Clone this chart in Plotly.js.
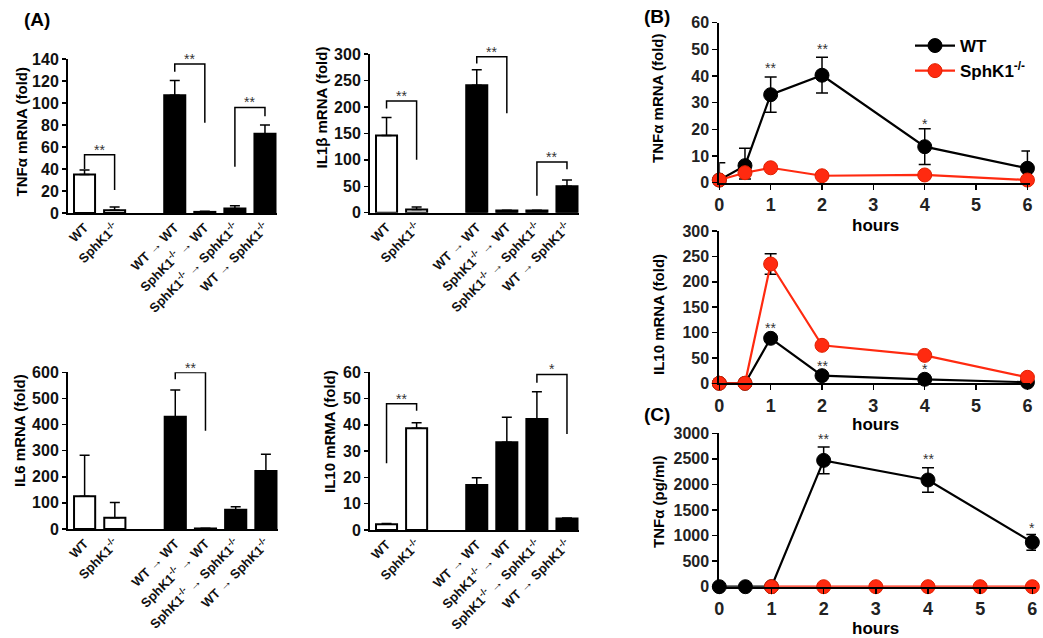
<!DOCTYPE html>
<html><head><meta charset="utf-8">
<script src="https://cdn.plot.ly/plotly-3.0.1.min.js"></script>
<style>body{margin:0;background:#fff}#chart{width:1043px;height:638px}</style>
</head><body><div id="chart"></div>
<script>
// ---------- Panel A data ----------
const groups = ['WT', 'SphK1<sup>-/-</sup>', 'WT → WT', 'SphK1<sup>-/-</sup> → WT',
  'SphK1<sup>-/-</sup> → SphK1<sup>-/-</sup>', 'WT → SphK1<sup>-/-</sup>'];
const tnfA = [35, 2.5, 107, 1, 4, 72];
const tnfAErr = [4, 3, 13.5, 0.5, 2.5, 8];
const il1bA = [146, 6, 241, 4, 4, 50];
const il1bAErr = [34, 5, 29, 0.5, 0.5, 12];
const il6A = [125, 43, 430, 2, 74, 222];
const il6AErr = [157, 58, 102, 0.5, 11, 64];
const il10A = [2.2, 38.7, 17.1, 33.4, 42.2, 4.4];
const il10AErr = [0.3, 2.1, 2.8, 9.5, 10.4, 0.2];
// significance brackets: [group i, group j, top, left end, right end, label]
const tnfASig = [[0, 1, 53, 40, 21, '**'], [2, 3, 135.5, 128.5, 82, '**'], [4, 5, 96, 42, 88, '**']];
const il1bASig = [[0, 1, 211, 197, 100, '**'], [2, 3, 295, 282, 188, '**'], [4, 5, 96, 32, 82, '**']];
const il6ASig = [[2, 3, 599, 573, 376, '**']];
const il10ASig = [[0, 1, 48, 25.4, 45.4, '**'], [4, 5, 59.2, 56, 36.5, '*']];
const titlesA = ['TNFα mRNA (fold)', 'IL1β mRNA (fold)', 'IL6 mRNA (fold)', 'IL10 mRMA (fold)'];

// ---------- Panel B / C data ----------
const hours = [0, 0.5, 1, 2, 4, 6];
const tnfWT = [1, 6.4, 33, 40.3, 13.5, 5.4];
const tnfWTErrUp = [6.5, 6.5, 6.6, 6.7, 6.7, 6.5];
const tnfWTErrDn = [0, 5, 6.6, 6.7, 6.7, 5.4];
const tnfKO = [1, 3.75, 5.6, 2.6, 2.9, 1];
const tnfSig = [[1, 43.5, '**'], [2, 50.4, '**'], [4, 22.5, '*']];

const il10WT = [0, 0, 88.6, 15, 7.9, 2];
const il10KO = [0, 0, 235, 74.8, 55, 11.8];
const il10KOErr = [0, 0, 20, 0, 0, 0];
const il10Sig = [[1, 110, '**'], [2, 36, '**'], [4, 30, '*']];

const hoursCWT = [0, 0.5, 1, 2, 4, 6];
const tnfCWT = [0, 0, 0, 2470, 2087, 868];
const tnfCWTErr = [0, 0, 0, 260, 240, 155];
const hoursCKO = [1, 2, 3, 4, 5, 6];
const tnfCKO = [0, 0, 0, 0, 0, 0];
const tnfCSig = [[2, 2900, '**'], [4, 2510, '**'], [6, 1160, '*']];
const titlesB = ['TNFα mRNA (fold)', 'IL10 mRNA (fold)', 'TNFα (pg/ml)'];

// ---------- layout helpers ----------
const W = 1043, H = 638;
const FONT = 'Arial, Liberation Sans, sans-serif';
const slots = [0, 1, 3, 4, 5, 6];
const fills = ['#fff', '#fff', '#000', '#000', '#000', '#000'];
const RED = '#ff2a10';
const dx = (a, b) => [a / W, b / W];
const dy = (top, bottom) => [1 - bottom / H, 1 - top / H];

const traces = [];
const annotations = [];

function barPanel(n, vals, errs, sig) {
  const xa = 'x' + (n === 1 ? '' : n), ya = 'y' + (n === 1 ? '' : n);
  traces.push({
    type: 'bar', x: slots, y: vals, xaxis: xa, yaxis: ya, width: 0.7,
    marker: {color: fills, line: {color: '#000', width: 2}},
    error_y: {type: 'data', symmetric: false, array: errs, arrayminus: vals.map(() => 0),
      color: '#000', thickness: 1.5, width: 5},
    showlegend: false, hoverinfo: 'skip', cliponaxis: false
  });
  sig.forEach(s => {
    const x0 = slots[s[0]], x1 = slots[s[1]];
    traces.push({
      type: 'scatter', mode: 'lines', x: [x0, x0, x1, x1], y: [s[3], s[2], s[2], s[4]],
      xaxis: xa, yaxis: ya, line: {color: '#000', width: 1.5}, showlegend: false,
      hoverinfo: 'skip', cliponaxis: false
    });
    annotations.push({
      xref: xa, yref: ya, x: (x0 + x1) / 2, y: s[2], text: s[5], showarrow: false,
      yanchor: 'bottom', yshift: -5, font: {family: FONT, size: 14, color: '#333'}
    });
  });
}

barPanel(1, tnfA, tnfAErr, tnfASig);
barPanel(2, il1bA, il1bAErr, il1bASig);
barPanel(3, il6A, il6AErr, il6ASig);
barPanel(4, il10A, il10AErr, il10ASig);

function lineTrace(n, x, y, color, name, errUp, errDn, legend) {
  const t = {
    type: 'scatter', mode: 'lines+markers', x: x, y: y, name: name,
    xaxis: 'x' + n, yaxis: 'y' + n,
    line: {color: color, width: 2.2},
    marker: {color: color, size: 14, line: {color: color === RED ? '#e02000' : '#000', width: 1}},
    showlegend: !!legend, cliponaxis: false, hoverinfo: 'skip'
  };
  if (errUp) {
    t.error_y = {type: 'data', symmetric: false, array: errUp, arrayminus: errDn || errUp,
      color: '#000', thickness: 1.5, width: 6};
  }
  traces.push(t);
}
function stars(n, sig) {
  sig.forEach(s => annotations.push({
    xref: 'x' + n, yref: 'y' + n, x: s[0], y: s[1], text: s[2], showarrow: false,
    yanchor: 'middle', yshift: -1, font: {family: FONT, size: 14, color: '#333'}
  }));
}

lineTrace(5, hours, tnfWT, '#000', 'WT', tnfWTErrUp, tnfWTErrDn, true);
lineTrace(5, hours, tnfKO, RED, 'SphK1<sup>-/-</sup>', null, null, true);
stars(5, tnfSig);
lineTrace(6, hours, il10WT, '#000', 'WT', null, null, false);
lineTrace(6, hours, il10KO, RED, 'SphK1-/-', il10KOErr, il10KOErr, false);
stars(6, il10Sig);
lineTrace(7, hoursCWT, tnfCWT, '#000', 'WT', tnfCWTErr, tnfCWTErr, false);
lineTrace(7, hoursCKO, tnfCKO, RED, 'SphK1-/-', null, null, false);
stars(7, tnfCSig);

// panel labels
[['(A)', 22, 20], ['(B)', 642, 16], ['(C)', 642, 414]].forEach(p => annotations.push({
  xref: 'paper', yref: 'paper', x: p[1] / W, y: 1 - p[2] / H, xanchor: 'left', yanchor: 'middle',
  text: '<b>' + p[0] + '</b>', showarrow: false, font: {family: FONT, size: 19, color: '#000'}
}));
// x-axis titles "hours", tight under the tick labels as in the original
[225, 424, 628].forEach(py => annotations.push({
  xref: 'paper', yref: 'paper', x: 875 / W, y: 1 - py / H, xanchor: 'center', yanchor: 'middle',
  text: '<b>hours</b>', showarrow: false, font: {family: FONT, size: 17, color: '#000'}
}));
// y-axis titles
const yTitlePos = [[21, 132.5], [321, 107.5], [19, 431], [329, 432], [658, 99], [658, 315], [658, 502]];
titlesA.concat(titlesB).forEach((t, i) => annotations.push({
  xref: 'paper', yref: 'paper', x: yTitlePos[i][0] / W, y: 1 - yTitlePos[i][1] / H,
  xanchor: 'center', yanchor: 'middle', textangle: -90, showarrow: false,
  text: '<b>' + t + '</b>', font: {family: FONT, size: 15, color: '#000'}
}));

const tickFontA = {family: FONT, size: 16, weight: 'bold', color: '#111'};
const catFontA = {family: FONT, size: 13, weight: 'bold', color: '#111'};

function xA(domain) {
  return {domain: domain, range: [-0.55, 6.4], showline: true, linewidth: 2, linecolor: '#000',
    ticks: '', tickvals: slots, ticktext: groups, tickangle: -45, tickfont: catFontA,
    showgrid: false, zeroline: false, fixedrange: true};
}
function yA(domain, max, dtick, anchor) {
  return {domain: domain, range: [0, max], dtick: dtick, showline: true, linewidth: 2,
    linecolor: '#000', ticks: 'outside', ticklen: 4, tickwidth: 1.5, tickcolor: '#000',
    tickfont: tickFontA, showgrid: false, zeroline: false, anchor: anchor};
}
function xB(domain, anchor, rmax) {
  return {domain: domain, range: [0, rmax], anchor: anchor, showline: true, linewidth: 2,
    linecolor: '#000', ticks: 'outside', ticklen: 5, tickwidth: 1.5, tickcolor: '#000',
    tickvals: [0, 1, 2, 3, 4, 5, 6],
    tickfont: {family: FONT, size: 18, weight: 'bold', color: '#222'},
    showgrid: false, zeroline: false};
}
function yB(domain, max, dtick, anchor) {
  return {domain: domain, range: [0, max], dtick: dtick, anchor: anchor, showline: true,
    linewidth: 2, linecolor: '#000', ticks: 'outside', ticklen: 5, tickwidth: 1.5,
    tickcolor: '#000', tickfont: {family: FONT, size: 16, weight: 'bold', color: '#222'},
    showgrid: false, zeroline: false};
}

const layout = {
  width: W, height: H, margin: {l: 0, r: 0, t: 0, b: 0},
  paper_bgcolor: '#fff', plot_bgcolor: 'rgba(0,0,0,0)',
  font: {family: FONT},
  bargap: 0,
  xaxis: Object.assign(xA(dx(68, 277)), {anchor: 'y'}),
  yaxis: yA(dy(59, 213), 140, 20, 'x'),
  xaxis2: Object.assign(xA(dx(370, 579)), {anchor: 'y2'}),
  yaxis2: yA(dy(54, 212.7), 300, 50, 'x2'),
  xaxis3: Object.assign(xA(dx(68, 278)), {anchor: 'y3'}),
  yaxis3: yA(dy(372.3, 529), 600, 100, 'x3'),
  xaxis4: Object.assign(xA(dx(370, 579)), {anchor: 'y4'}),
  yaxis4: yA(dy(372.3, 530), 60, 10, 'x4'),
  xaxis5: xB(dx(719.3, 1030), 'y5', 6.05),
  yaxis5: yB(dy(22.7, 182.7), 60, 10, 'x5'),
  xaxis6: xB(dx(719.3, 1030), 'y6', 6.05),
  yaxis6: yB(dy(231, 383.3), 300, 50, 'x6'),
  xaxis7: xB(dx(719.3, 1036), 'y7', 6.07),
  yaxis7: yB(dy(433.3, 586.7), 3000, 500, 'x7'),
  legend: {x: 910 / W, y: 1 - 28 / H, xanchor: 'left', yanchor: 'top', bgcolor: 'rgba(0,0,0,0)',
    font: {family: FONT, size: 17, weight: 'bold', color: '#000'}, itemwidth: 40, tracegroupgap: 0},
  annotations: annotations,
  showlegend: true
};

Plotly.newPlot('chart', traces, layout, {staticPlot: true, displayModeBar: false});
</script>
</body></html>
